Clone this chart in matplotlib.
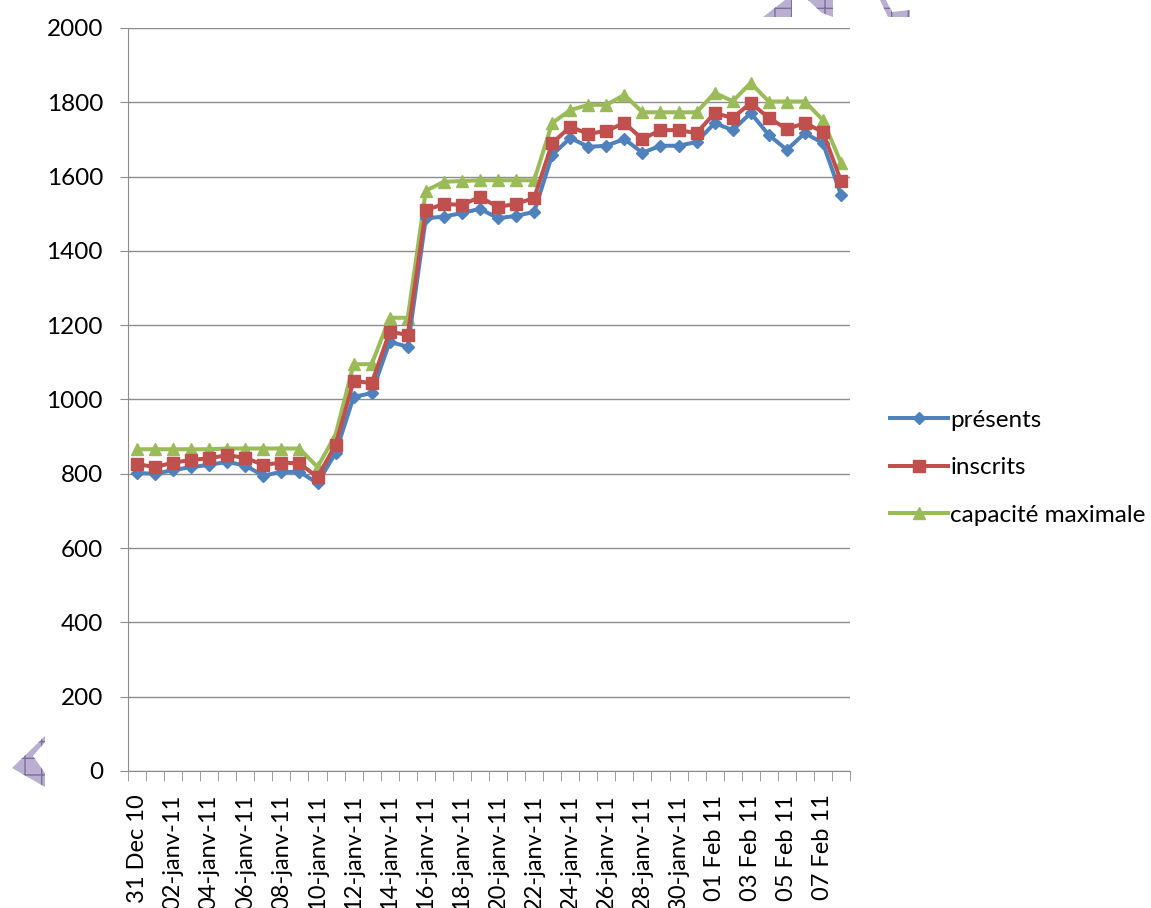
import numpy as np
import matplotlib.pyplot as plt
from matplotlib.patches import Polygon

# -----------------------------------------------------
# Data
# -----------------------------------------------------

dates = [
    "31 Dec 10", "01-janv-11", "02-janv-11", "03-janv-11", "04-janv-11",
    "05-janv-11", "06-janv-11", "07-janv-11", "08-janv-11", "09-janv-11",
    "10-janv-11", "11-janv-11", "12-janv-11", "13-janv-11", "14-janv-11",
    "15-janv-11", "16-janv-11", "17-janv-11", "18-janv-11", "19-janv-11",
    "20-janv-11", "21-janv-11", "22-janv-11", "23-janv-11", "24-janv-11",
    "25-janv-11", "26-janv-11", "27-janv-11", "28-janv-11", "29-janv-11",
    "30-janv-11", "31-janv-11", "01 Feb 11", "02 Feb 11", "03 Feb 11",
    "04 Feb 11", "05 Feb 11", "06 Feb 11", "07 Feb 11", "08 Feb 11",
]

presents = [802, 800, 810, 818, 824, 832, 822, 795, 805, 805,
            775, 856, 1007, 1017, 1155, 1142, 1488, 1492, 1502, 1513,
            1488, 1494, 1505, 1658, 1704, 1680, 1683, 1701, 1664, 1683,
            1683, 1693, 1744, 1725, 1771, 1712, 1672, 1717, 1690, 1551]

inscrits = [826, 818, 830, 837, 842, 850, 843, 824, 830, 828,
            791, 878, 1050, 1044, 1182, 1174, 1510, 1526, 1524, 1545,
            1518, 1527, 1542, 1690, 1734, 1715, 1723, 1744, 1701, 1725,
            1725, 1717, 1771, 1758, 1798, 1758, 1728, 1744, 1720, 1588]

capacite = [866, 866, 866, 866, 866, 868, 868, 868, 868, 868,
            818, 905, 1095, 1095, 1220, 1220, 1562, 1586, 1588, 1590,
            1590, 1590, 1590, 1744, 1779, 1793, 1793, 1820, 1773, 1773,
            1773, 1773, 1825, 1803, 1852, 1802, 1802, 1802, 1752, 1637]

# -----------------------------------------------------
# Plot
# -----------------------------------------------------

plt.rcParams["font.family"] = ["Lato", "DejaVu Sans"]

W, H = 1151, 908
fig = plt.figure(figsize=(W / 100, H / 100), dpi=100)
ax = fig.add_axes([0.1112, 0.1509, 0.6273, 0.8183])

x = np.arange(len(dates))

ax.plot(x, presents, color="#4F81BD", lw=2.9, marker="D", ms=6,
        label="présents", zorder=3)
ax.plot(x, inscrits, color="#C0504D", lw=2.9, marker="s", ms=8,
        label="inscrits", zorder=4)
ax.plot(x, capacite, color="#9BBB59", lw=2.9, marker="^", ms=8,
        label="capacité maximale", zorder=2)

ax.set_xlim(-0.5, len(dates) - 0.5)
ax.set_ylim(0, 2000)
ax.set_yticks(range(0, 2001, 200))
ax.yaxis.grid(True, color="#8C8C8C", lw=1)
ax.set_axisbelow(True)

# labels every second day, ticks on category boundaries
ax.set_xticks(x[::2])
ax.set_xticklabels(dates[::2], rotation=90, va="top", ha="center")
ax.set_xticks(np.arange(-0.5, len(dates)), minor=True)
ax.tick_params(axis="x", which="major", length=0, pad=17, labelsize=17)
ax.tick_params(axis="x", which="minor", length=7, color="#8C8C8C")
ax.tick_params(axis="y", length=6, color="#8C8C8C", labelsize=17.5, pad=12)

for side in ["top", "right"]:
    ax.spines[side].set_visible(False)
for side in ["left", "bottom"]:
    ax.spines[side].set_color("#8C8C8C")

ax.legend(loc="center left", bbox_to_anchor=(1.025, 0.408), frameon=False,
          fontsize=17.5, handlelength=2.4, handletextpad=0.08,
          labelspacing=1.09)

# watermark fragments seen on the scanned page (pixel coords, y from top)
shapes = [
    [(763, 17), (785, 0), (792, 0), (792, 17)],
    [(808, 0), (833, 0), (833, 17), (822, 13)],
    [(880, 0), (886, 0), (892, 12), (910, 10), (910, 17), (888, 17)],
    [(45, 736), (45, 742), (33, 756), (45, 773), (45, 787), (12, 768)],
]
for pts in shapes:
    poly = Polygon([(px / W, 1 - py / H) for px, py in pts], closed=True,
                   transform=fig.transFigure, facecolor="#B9AFD0",
                   edgecolor="#7D6E9E", hatch="+", lw=0)
    fig.patches.append(poly)

plt.savefig("out.png", dpi=100)
plt.close()
